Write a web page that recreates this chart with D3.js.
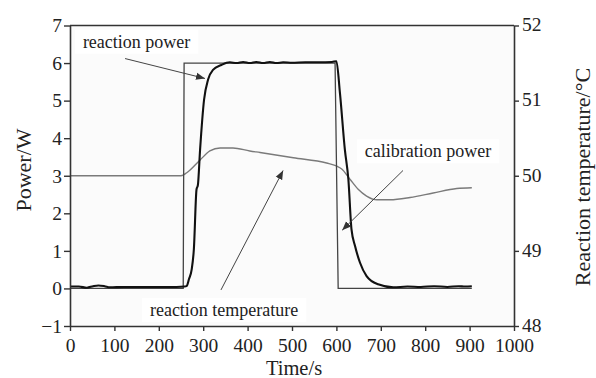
<!DOCTYPE html>
<meta charset="utf-8">
<head>
    <script src="https://d3js.org/d3.v7.min.js"></script>
    <style>
        body { margin: 0; background: #fff; }
        text { font-family: "Liberation Serif", "Times New Roman", serif; fill: #222; }
    </style>
</head>
<body>
<div id="graph"></div>
<script>
    // time axis (s)
    var timeTicks = [0, 100, 200, 300, 400, 500, 600, 700, 800, 900, 1000];
    var powerTicks = [-1, 0, 1, 2, 3, 4, 5, 6, 7];
    var tempTicks = [48, 49, 50, 51, 52];

    // calibration power (W), square pulse
    var calibT = [0, 255, 257, 597, 604, 905];
    var calibP = [0.0, 0.0, 6.0, 6.0, 0.0, 0.0];

    // reaction power (W)
    var reactT = [0, 20, 38, 52, 64, 78, 90, 120, 180, 240, 258, 263, 268, 274, 279, 285, 288, 293, 302, 311, 322, 341, 360,
                  375, 390, 405, 420, 435, 450, 465, 480, 500, 530, 560, 590, 600, 608, 619, 627, 634, 642, 653, 668, 694, 728,
                  760, 790, 820, 850, 875, 890, 905];
    var reactP = [0.05, 0.05, 0.02, 0.06, 0.08, 0.06, 0.03, 0.04, 0.04, 0.04, 0.05, 0.07, 0.25, 0.5, 1.05, 2.64, 2.75, 3.7, 5.03, 5.56, 5.82, 5.95, 6.02,
                  6.0, 6.03, 6.0, 6.03, 6.0, 6.03, 6.0, 6.02, 6.01, 6.02, 6.02, 6.03, 6.05, 5.2, 3.7, 2.9, 1.57, 1.13, 0.69, 0.33, 0.11, 0.03,
                  0.05, 0.04, 0.06, 0.04, 0.06, 0.05, 0.06];

    // reaction temperature (°C), right axis
    var tempT = [0, 250, 263, 293, 315, 338, 367, 405, 428, 503, 578, 600, 612, 631, 649, 668, 691, 721, 766, 818, 871, 905];
    var tempC = [50.0, 50.0, 50.04, 50.21, 50.33, 50.37, 50.37, 50.33, 50.31, 50.24, 50.17, 50.13, 50.09, 49.95, 49.82, 49.73, 49.68, 49.68, 49.71, 49.77, 49.83, 49.84];

    // annotations: label, text anchor (time, power), arrow from / to (time, power)
    var noteLabels = ["reaction power", "calibration power", "reaction temperature"];
    var noteText = [[29, 6.41], [664, 3.49], [180, -0.73]];
    var noteFrom = [[124, 6.12], [750, 3.14], [340, -0.04]];
    var noteTo = [[304, 5.59], [613, 1.55], [480, 3.14]];

    var width = 596, height = 378;

    var svg = d3.select("#graph")
      .append("svg")
        .attr("width", width)
        .attr("height", height);

    var x = d3.scaleLinear().domain([0, 1000]).range([70, 514]);
    var yP = d3.scaleLinear().domain([-1, 7]).range([326, 25.5]);
    var yT = d3.scaleLinear().domain([48, 52]).range([326, 25.5]);

    // plot background
    svg.append("rect")
        .attr("x", x(0)).attr("y", yP(7))
        .attr("width", x(1000) - x(0)).attr("height", yP(-1) - yP(7))
        .attr("fill", "#fbfbfb");

    // temperature
    svg.append("path")
        .datum(tempT.map(function(t, i) { return [x(t), yT(tempC[i])]; }))
        .attr("d", d3.line().curve(d3.curveMonotoneX))
        .attr("fill", "none").attr("stroke", "#7a7a7a").attr("stroke-width", 1.4);

    // calibration power
    svg.append("path")
        .datum(calibT.map(function(t, i) { return [x(t), yP(calibP[i])]; }))
        .attr("d", d3.line())
        .attr("fill", "none").attr("stroke", "#444").attr("stroke-width", 1.3);

    // reaction power
    svg.append("path")
        .datum(reactT.map(function(t, i) { return [x(t), yP(reactP[i])]; }))
        .attr("d", d3.line().curve(d3.curveMonotoneX))
        .attr("fill", "none").attr("stroke", "#111").attr("stroke-width", 2.1);

    // arrow head
    svg.append("defs").append("marker")
        .attr("id", "head")
        .attr("viewBox", "0 0 10 10")
        .attr("refX", 10).attr("refY", 5)
        .attr("markerWidth", 9).attr("markerHeight", 9)
        .attr("markerUnits", "userSpaceOnUse")
        .attr("orient", "auto")
      .append("path")
        .attr("d", "M0,1 L10,5 L0,9 z")
        .attr("fill", "#333");

    // annotations
    noteLabels.forEach(function(lab, i) {
        var g = svg.append("g");
        var bg = g.append("rect").attr("fill", "#fff");
        var txt = g.append("text")
            .attr("x", x(noteText[i][0]))
            .attr("y", yP(noteText[i][1]))
            .style("font-size", "18px")
            .text(lab);
        var bb = txt.node().getBBox();
        bg.attr("x", bb.x - 8).attr("y", bb.y - 2)
          .attr("width", bb.width + 16).attr("height", bb.height + 4);
        svg.append("line")
            .attr("x1", x(noteFrom[i][0])).attr("y1", yP(noteFrom[i][1]))
            .attr("x2", x(noteTo[i][0])).attr("y2", yP(noteTo[i][1]))
            .attr("stroke", "#444").attr("stroke-width", 1)
            .attr("marker-end", "url(#head)");
    });

    // axes
    var axisColor = "#333";
    function styleAxis(g) {
        g.attr("font-family", '"Liberation Serif", serif').attr("font-size", 19);
        g.select(".domain").attr("stroke", axisColor).attr("stroke-width", 1.6);
        g.selectAll(".tick line").attr("stroke", axisColor).attr("stroke-width", 1.4);
        g.selectAll(".tick text")
            .attr("fill", "#222")
            .style("font-family", '"Liberation Serif", serif')
            .style("font-size", "19.5px");
    }

    svg.append("g")
        .attr("transform", "translate(0," + yP(-1) + ")")
        .call(d3.axisBottom(x).tickValues(timeTicks).tickSize(5).tickSizeOuter(0).tickPadding(7.5).tickFormat(d3.format("d")))
        .call(styleAxis);

    svg.append("g")
        .attr("transform", "translate(" + x(0) + ",0)")
        .call(d3.axisLeft(yP).tickValues(powerTicks).tickSize(6).tickSizeOuter(0).tickPadding(2)
              .tickFormat(function(d) { return d < 0 ? "\u2212" + Math.abs(d) : d; }))
        .call(styleAxis);

    svg.append("g")
        .attr("transform", "translate(" + x(1000) + ",0)")
        .call(d3.axisRight(yT).tickValues(tempTicks).tickSize(5).tickSizeOuter(0).tickPadding(3).tickFormat(d3.format("d")))
        .call(styleAxis)
        .selectAll(".tick text").attr("dy", "0.27em");

    // top border
    svg.append("line")
        .attr("x1", x(0)).attr("x2", x(1000))
        .attr("y1", yP(7)).attr("y2", yP(7))
        .attr("stroke", axisColor).attr("stroke-width", 1.6);

    // axis titles
    svg.append("text")
        .attr("x", (x(0) + x(1000)) / 2 + 2)
        .attr("y", 374.5)
        .attr("text-anchor", "middle")
        .style("font-size", "20.5px")
        .text("Time/s");

    svg.append("text")
        .attr("transform", "translate(31," + 170 + ") rotate(-90)")
        .attr("text-anchor", "middle")
        .style("font-size", "22px")
        .text("Power/W");

    svg.append("text")
        .attr("transform", "translate(590," + 177 + ") rotate(-90)")
        .attr("text-anchor", "middle")
        .style("font-size", "22px")
        .text("Reaction temperature/\u00B0C");
</script>
</body>
